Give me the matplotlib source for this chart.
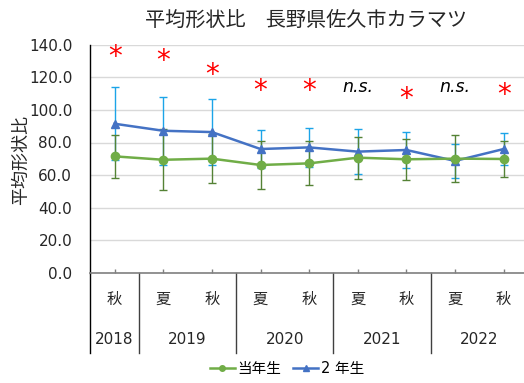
import numpy as np
import matplotlib
matplotlib.use("Agg")
import matplotlib.pyplot as plt
import matplotlib.transforms as mtransforms
from matplotlib.lines import Line2D

plt.rcParams['font.family'] = ['DejaVu Sans', 'Noto Sans CJK JP']

# Data: mean shape ratio (mean +/- SD) per survey
seasons = ["秋", "夏", "秋", "夏", "秋", "夏", "秋", "夏", "秋"]
years = ["2018", "2019", "2020", "2021", "2022"]
year_spans = [(0, 0), (1, 2), (3, 4), (5, 6), (7, 8)]

mean_1st = [71.5, 69.4, 70.1, 66.2, 67.2, 70.7, 69.7, 70.1, 69.9]
sd_1st = [13.3, 18.7, 15.1, 14.6, 13.5, 12.8, 12.7, 14.6, 11.3]
mean_2nd = [91.5, 87.2, 86.4, 76.0, 77.0, 74.4, 75.4, 68.7, 76.0]
sd_2nd = [22.5, 21.0, 20.2, 11.9, 12.2, 13.8, 11.1, 10.6, 10.0]

sig_marks = ["*", "*", "*", "*", "*", "n.s.", "*", "n.s.", "*"]
sig_y = [136.7, 134.3, 125.5, 115.9, 115.9, 111.2, 111.0, 111.2, 113.0]

green = "#70AD47"
green_err = "#548235"
blue = "#4472C4"
blue_err = "#1CA4E8"

fig = plt.figure(figsize=(5.24, 3.83), dpi=100)
ax = fig.add_axes([90.3 / 524, 110.1 / 383, (528 - 90.3) / 524, 228.2 / 383])

x = np.arange(len(seasons))

ax.errorbar(x, mean_2nd, yerr=sd_2nd, fmt='none', ecolor=blue_err,
            elinewidth=1.0, capsize=3, capthick=1.0, zorder=3)
ax.errorbar(x, mean_1st, yerr=sd_1st, fmt='none', ecolor=green_err,
            elinewidth=1.0, capsize=3, capthick=1.0, zorder=3)
ax.plot(x, mean_2nd, color=blue, lw=1.8, marker='^', ms=6, zorder=4)
ax.plot(x, mean_1st, color=green, lw=1.8, marker='o', ms=6, zorder=5)

# significance marks; asterisk glyph is shifted so its centre sits on sig_y
star_size = 20
star_trans = mtransforms.offset_copy(ax.transData, fig=fig,
                                     y=-0.53 * star_size, units='points')
for xi, s, yv in zip(x, sig_marks, sig_y):
    if s == "*":
        ax.text(xi, yv, "*", color="#FF0000", fontsize=star_size, ha='center',
                va='baseline', family='DejaVu Sans', transform=star_trans)
    else:
        ax.text(xi, yv, s, color="black", fontsize=12.5, ha='center',
                va='baseline', style='italic', family='DejaVu Sans')

ax.set_xlim(-0.5, len(seasons) - 0.5)
ax.set_ylim(0, 140)
ax.set_yticks(np.arange(0, 141, 20))
ax.set_yticklabels([f"{v:.1f}" for v in np.arange(0, 141, 20)], fontsize=11,
                   color="#262626")
ax.tick_params(axis='y', length=0, pad=13)
ax.yaxis.grid(True, color="#D9D9D9", lw=1.0)
ax.set_axisbelow(True)

ax.set_xticks(x)
ax.set_xticklabels([])
ax.tick_params(axis='x', direction='in', length=3, color="#7F7F7F", width=1.0)

for side in ['top', 'right']:
    ax.spines[side].set_visible(False)
ax.spines['left'].set_color("black")
ax.spines['left'].set_linewidth(1.0)
ax.spines['bottom'].set_color("#7F7F7F")
ax.spines['bottom'].set_linewidth(1.2)

# two-level category axis: seasons on top, years below, with group dividers
trans = mtransforms.blended_transform_factory(ax.transData, ax.transAxes)
div_bottom = -(352.7 - 272.9) / 228.2
for b in [-0.5, 0.5, 2.5, 4.5, 6.5, 8.5]:
    ax.add_line(Line2D([b, b], [0, div_bottom], transform=trans,
                       color="black" if b == -0.5 else "#404040", lw=1.0,
                       clip_on=False))

season_y = -(299 - 272.9) / 228.2
year_y = -(340 - 272.9) / 228.2
for xi, s in zip(x, seasons):
    ax.text(xi, season_y, s, transform=trans, ha='center', va='center',
            fontsize=11, family='Noto Sans CJK JP', color="#262626")
for yr, (a, b) in zip(years, year_spans):
    ax.text((a + b) / 2, year_y, yr, transform=trans, ha='center',
            va='center', fontsize=11, color="#262626")

ax.set_ylabel("平均形状比", family='Noto Sans CJK JP', fontsize=13,
              color="#262626")
ax.yaxis.set_label_coords(-(90.3 - 30) / 437.7, (272.9 - 160) / 228.2)

fig.text(306 / 524, 1 - 20 / 383, "平均形状比　長野県佐久市カラマツ",
         ha='center', va='center', fontsize=14.5, family='Noto Sans CJK JP',
         color="#262626")

handles = [Line2D([], [], color=green, lw=1.8, marker='o', ms=4),
           Line2D([], [], color=blue, lw=1.8, marker='^', ms=4)]
fig.legend(handles, ["当年生", "2 年生"], loc='center',
           bbox_to_anchor=(287 / 524, 1 - 369 / 383), ncol=2, frameon=False,
           handlelength=1.7, handletextpad=0.2, columnspacing=0.8,
           prop={'family': ['DejaVu Sans', 'Noto Sans CJK JP'], 'size': 10.5})

fig.savefig("out.png", dpi=100)
